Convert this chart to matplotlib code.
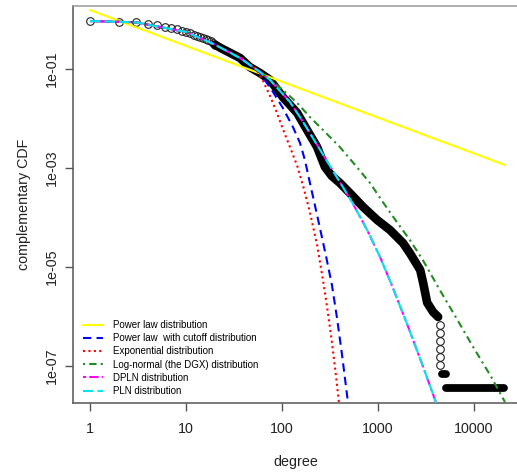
import matplotlib
matplotlib.use("Agg")
import matplotlib.pyplot as plt
from matplotlib.lines import Line2D

plt.rcParams['font.family'] = ['Liberation Sans', 'DejaVu Sans']

head_deg = [1, 2, 3, 4, 5, 6, 7, 8, 9, 10, 11, 12, 13, 14, 15, 16, 17, 18, 19, 20]
head_ccdf = [0.93, 0.90, 0.875, 0.82, 0.76, 0.72, 0.68, 0.63, 0.59, 0.56,
             0.53, 0.49, 0.47, 0.45, 0.43, 0.41, 0.385, 0.36, 0.335, 0.31]
body_deg = [20, 23, 36.5, 46, 60, 75, 102, 144, 182, 232, 280, 330, 400, 510,
            700, 980, 1330, 1820, 2150, 2750, 2950, 3250, 3750, 4230]
body_ccdf = [0.31, 0.265, 0.167, 0.11, 0.081, 0.06, 0.027, 0.0129, 5.9e-3,
             2.65e-3, 1.05e-3, 6.9e-4, 5e-4, 3.1e-4, 1.63e-4, 8.9e-5, 5.6e-5,
             3.05e-5, 1.9e-5, 8.7e-6, 4.8e-6, 1.9e-6, 1.23e-6, 9.8e-7]
drop_deg = [4370, 4370, 4370, 4370, 4370, 4370]
drop_ccdf = [6.8e-7, 4.7e-7, 3.2e-7, 2.2e-7, 1.5e-7, 1.05e-7]
blob_deg = [4600, 5150]
blob_ccdf = [6.9e-8, 6.9e-8]
tail_deg = [5150, 20300]
tail_ccdf = [3.6e-8, 3.6e-8]

# fitted curves
pl_deg = [1, 21000]
pl_ccdf = [1.55, 1.15e-3]
plc_deg = [1, 3, 10, 20, 36.5, 59, 80.6, 102, 130, 154, 173, 205, 243, 287,
           331, 374, 422, 487]
plc_ccdf = [0.93, 0.875, 0.56, 0.31, 0.167, 0.083, 0.0343, 0.0163, 6.7e-3,
            3.2e-3, 1.45e-3, 3.27e-4, 7.4e-5, 1.67e-5, 4.33e-6, 9.3e-7,
            1.67e-7, 1.8e-8]
exp_deg = [1, 3, 10, 20, 36.5, 54.7, 63.4, 75, 88.6, 102, 121, 144, 166, 195,
           232, 267, 300, 331, 364, 392]
exp_ccdf = [0.93, 0.875, 0.56, 0.31, 0.175, 0.0955, 0.0573, 0.0285, 0.0129,
            6.14e-3, 2.65e-3, 1.1e-3, 4.33e-4, 1.29e-4, 2.78e-5, 5.5e-6,
            1.23e-6, 3.05e-7, 6.6e-8, 1.8e-8]
ln_deg = [1, 3, 10, 20, 36.5, 59, 102, 144, 195, 267, 400, 577, 825, 1120,
          1570, 2150, 2930, 4400, 6630, 9790, 14700, 21000]
ln_ccdf = [0.93, 0.875, 0.56, 0.31, 0.167, 0.087, 0.0377, 0.0206, 0.0107,
           5.86e-3, 2.65e-3, 1.15e-3, 4.98e-4, 2.06e-4, 8.1e-5, 3.5e-5,
           1.38e-5, 3.43e-6, 8.9e-7, 2.42e-7, 6.6e-8, 1.87e-8]
pln_deg = [1, 3, 10, 20, 36.5, 59, 75, 121, 166, 232, 316, 430, 550, 770,
           1050, 1390, 2010, 2830, 4030]
pln_ccdf = [0.93, 0.875, 0.56, 0.31, 0.167, 0.087, 0.060, 0.0215, 8.5e-3,
            2.92e-3, 1.1e-3, 4.13e-4, 1.87e-4, 5.6e-5, 1.59e-5, 4.33e-6,
            7.0e-7, 1.2e-7, 1.8e-8]

labels = ["Power law distribution", "Power law  with cutoff distribution",
          "Exponential distribution", "Log-normal (the DGX) distribution",
          "DPLN distribution", "PLN distribution"]

fig = plt.figure(figsize=(5.17, 4.75), dpi=100)
ax = fig.add_axes([73/517, 1 - 403/475, 446/517, 397/475])

# data: circles, dense parts drawn as a thick band
circ = dict(ls='none', marker='o', ms=5.5, mfc='none', mec='#222', mew=0.8)
ax.plot(body_deg, body_ccdf, color='black', lw=6.2, solid_capstyle='round',
        solid_joinstyle='round', zorder=2)
ax.plot(blob_deg, blob_ccdf, color='black', lw=5.6, solid_capstyle='round', zorder=2)
ax.plot(tail_deg, tail_ccdf, color='black', lw=5.6, solid_capstyle='round', zorder=2)
ax.plot(head_deg, head_ccdf, zorder=1.5, **circ)
ax.plot(drop_deg, drop_ccdf, zorder=2.5, **circ)

lw = 1.5
styles = [
    dict(color='#ffff00', ls='-'),
    dict(color='#0000ff', dashes=(4, 2.5)),
    dict(color='#ff0000', dashes=(1, 1.6)),
    dict(color='#228b22', dashes=(1, 2, 3.5, 2)),
    dict(color='#ff00ff', dashes=(1.5, 1.5, 4.5, 1.5)),
    dict(color='#00e5ee', dashes=(5, 2)),
]
curves = [(pl_deg, pl_ccdf), (plc_deg, plc_ccdf), (exp_deg, exp_ccdf),
          (ln_deg, ln_ccdf), (pln_deg, pln_ccdf), (pln_deg, pln_ccdf)]
for (xs, ys), st in zip(curves, styles):
    ax.plot(xs, ys, lw=lw, zorder=3, **st)

ax.set_xscale('log')
ax.set_yscale('log')
ax.set_xlim(0.665, 29400)
ax.set_ylim(1.79e-8, 1.87)
ax.minorticks_off()
ax.set_xticks([1, 10, 100, 1000, 10000])
ax.set_xticklabels(['1', '10', '100', '1000', '10000'])
ax.set_yticks([1e-1, 1e-3, 1e-5, 1e-7])
ax.set_yticklabels(['1e-01', '1e-03', '1e-05', '1e-07'], rotation=90, va='center')
ax.tick_params(length=5.5, width=1, color='#555', labelsize=10.3,
               labelcolor='#222')
ax.tick_params(axis='x', pad=8)
ax.tick_params(axis='y', pad=5)

for s in ['left', 'bottom']:
    ax.spines[s].set_color('#555')
    ax.spines[s].set_linewidth(1.1)
ax.spines['top'].set_color('#999')
ax.spines['top'].set_linewidth(1.1)
ax.spines['right'].set_visible(False)

ax.set_xlabel('degree', fontsize=10.3, color='#222', labelpad=14)
ax.set_ylabel('complementary CDF', fontsize=10.3, color='#222', labelpad=10)

handles = [Line2D([], [], lw=lw, **st) for st in styles]
ax.legend(handles, labels, loc='upper left', frameon=False, fontsize=7,
          bbox_to_anchor=(83/517, 1 - 320/475), bbox_transform=fig.transFigure,
          borderpad=0, borderaxespad=0, handlelength=2.1, handletextpad=1.0,
          labelspacing=0.33, handleheight=0.7)

fig.savefig('out.png', dpi=100)
